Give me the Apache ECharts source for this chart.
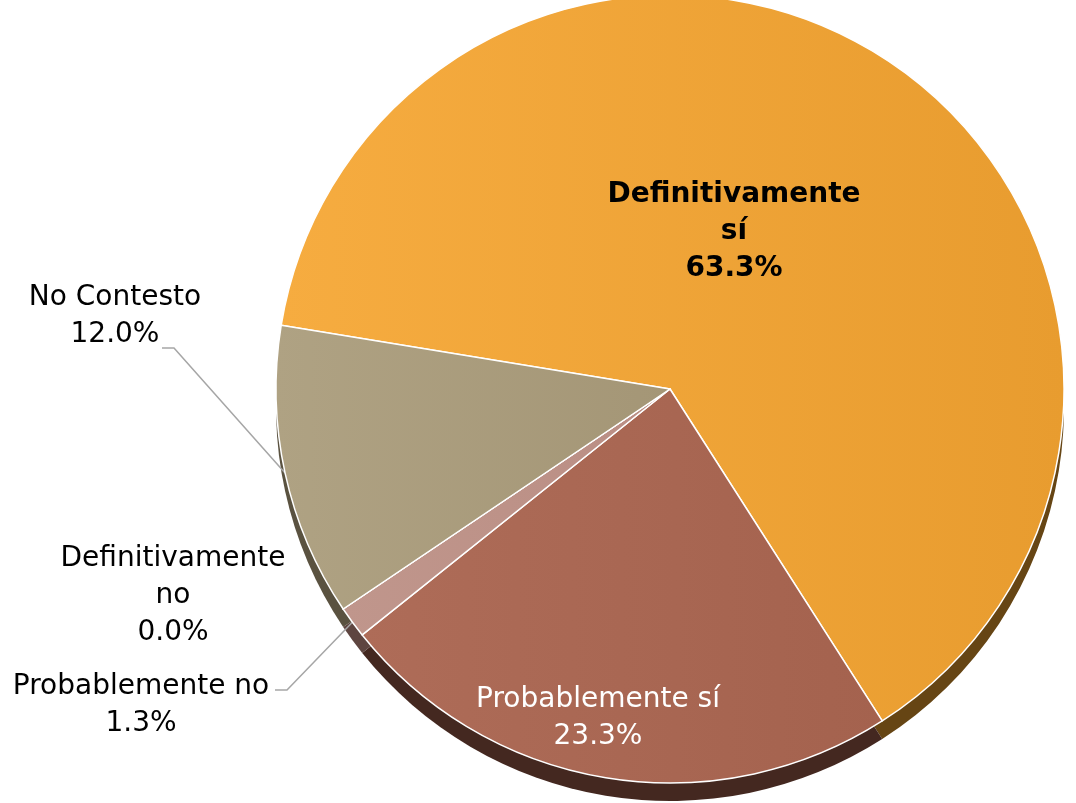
<!DOCTYPE html>
<html>
<head>
<meta charset="utf-8">
<script src="https://cdn.jsdelivr.net/npm/echarts@6/dist/echarts.min.js"></script>
<style>
  html, body { margin: 0; padding: 0; background: #fff; }
  #chart { width: 1076px; height: 803px; }
</style>
</head>
<body>
<div id="chart"></div>
<script>
// respuestas, en el orden del gráfico (sentido horario)
const categories = ['Definitivamente\nsí', 'Probablemente sí', 'Probablemente no', 'Definitivamente\nno', 'No Contesto'];
const percents = [63.3, 23.3, 1.3, 0.0, 12.0];

// colores de la cara superior (izq -> der) y del canto
const topColors = [
  ['#F6AC40', '#E89C2F'],
  ['#AE6C58', '#A4624E'],
  ['#C0968C', '#BA8E84'],
  ['#C0968C', '#BA8E84'],
  ['#AFA283', '#A49676'],
];
const rimColors = ['#664514', '#442820', '#5E4540', '#5E4540', '#5A5240'];

// dónde va cada etiqueta (centro del bloque de texto)
const labelPos = [
  { x: 734, y: 232 },
  { x: 598, y: 718 },
  { x: 141, y: 705, line: [[287, 690], [275, 690]] },
  { x: 173, y: 596 },
  { x: 115, y: 316, line: [[174, 348], [162, 348]] },
];

const CX = 670, CY = 389, R = 394, DEPTH = 18;
const FONT = 'DejaVu Sans';

const myChart = echarts.init(document.getElementById('chart'));

function grad(c) {
  return new echarts.graphic.LinearGradient(0, 0, 1, 0, [
    { offset: 0, color: c[0] },
    { offset: 1, color: c[1] },
  ]);
}

const topData = categories.map(function (name, i) {
  const item = {
    name: name,
    value: percents[i],
    itemStyle: { color: grad(topColors[i]) },
  };
  if (i === 0) {
    item.label = { fontWeight: 'bold', color: '#000' };
    item.labelLine = { show: false };
  } else if (i === 1) {
    item.label = { color: '#fff' };
    item.labelLine = { show: false };
  } else if (i === 3) {
    item.labelLine = { show: false };
  }
  return item;
});

const rimData = categories.map(function (name, i) {
  return { name: name, value: percents[i], itemStyle: { color: rimColors[i] } };
});

let option = {
  animation: false,
  backgroundColor: '#fff',
  series: [
    // canto (efecto 3D)
    {
      type: 'pie',
      silent: true,
      z: 1,
      center: [CX, CY + DEPTH],
      radius: R,
      startAngle: 170.7,
      clockwise: true,
      label: { show: false },
      labelLine: { show: false },
      itemStyle: { borderWidth: 0 },
      data: rimData,
    },
    {
      type: 'pie',
      z: 2,
      center: [CX, CY],
      radius: R,
      startAngle: 170.7,
      clockwise: true,
      avoidLabelOverlap: false,
      itemStyle: { borderColor: '#fff', borderWidth: 1.5 },
      label: {
        show: true,
        position: 'outside',
        fontFamily: FONT,
        fontSize: 28,
        lineHeight: 37,
        color: '#000',
        align: 'center',
        formatter: function (p) {
          return p.name + '\n' + p.value.toFixed(1) + '%';
        },
      },
      labelLine: {
        show: true,
        length: 10,
        length2: 10,
        lineStyle: { color: '#A6A6A6', width: 1.5 },
      },
      labelLayout: function (params) {
        const pos = labelPos[params.dataIndex];
        const out = { x: pos.x, y: pos.y, align: 'center', verticalAlign: 'middle' };
        if (pos.line && params.labelLinePoints) {
          out.labelLinePoints = [params.labelLinePoints[0], pos.line[0], pos.line[1]];
        }
        return out;
      },
      data: topData,
    },
  ],
};

myChart.setOption(option);
</script>
</body>
</html>
